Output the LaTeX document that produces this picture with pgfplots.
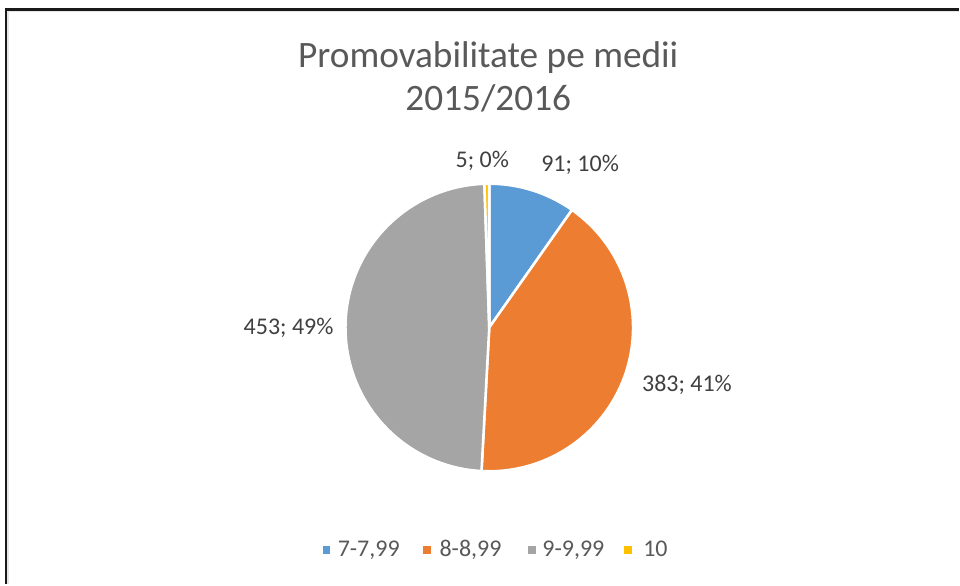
\documentclass[border=0pt]{standalone}
\usepackage{pgfplots}
\pgfplotsset{compat=1.18}
\usepackage{pgfplotstable}
\usepackage{fontspec}
\setmainfont{Carlito}

\definecolor{c1}{HTML}{5B9BD5}
\definecolor{c2}{HTML}{ED7D31}
\definecolor{c3}{HTML}{A5A5A5}
\definecolor{c4}{HTML}{FFC000}
\definecolor{titlu}{HTML}{595959}
\definecolor{eticheta}{HTML}{404040}

% promovabilitate pe medii, 2015/2016
\pgfplotstableread{
grupa valoare culoare
7-7,99 91 c1
8-8,99 383 c2
9-9,99 453 c3
10 5 c4
}\medii

\begin{document}
\begin{tikzpicture}
\pgfplotstablegetrowsof{\medii}
\pgfmathtruncatemacro\nr{\pgfplotsretval-1}
\def\total{0}
\pgfplotsforeachungrouped \i in {0,...,\nr}{%
  \pgfplotstablegetelem{\i}{valoare}\of\medii
  \pgfmathsetmacro\total{\total+\pgfplotsretval}}
\begin{axis}[
    scale only axis, width=720pt, height=438.75pt,
    xmin=0, xmax=960, ymin=0, ymax=585,
    hide axis, clip=false,
]
\fill[white] (axis cs:0,0) rectangle (axis cs:960,585);
% felii, in sensul acelor de ceas de la ora 12
\def\cum{0}
\pgfplotsforeachungrouped \i in {0,...,\nr}{%
  \pgfplotstablegetelem{\i}{valoare}\of\medii \let\v\pgfplotsretval
  \pgfplotstablegetelem{\i}{culoare}\of\medii \let\col\pgfplotsretval
  \pgfmathsetmacro\aS{90-360*(\cum/\total)}
  \pgfmathsetmacro\cum{\cum+\v}
  \pgfmathsetmacro\aE{90-360*(\cum/\total)}
  \edef\temp{\noexpand\fill[\col, draw=white, line width=1.9pt, line join=round]
    (axis cs:490,257) -- (axis cs:{490+144*cos(\aS)},{257+144*sin(\aS)})
    arc[start angle=\aS, end angle=\aE, radius=108pt] -- cycle;}
  \temp}
% etichete
\begin{scope}[every node/.style={anchor=base, text=eticheta, font=\fontsize{18}{21}\selectfont}]
\node at (axis cs:581,413) {91; 10\%};
\node at (axis cs:688,193) {383; 41\%};
\node at (axis cs:289,250) {453; 49\%};
\node at (axis cs:483,417) {5; 0\%};
\end{scope}
% titlu
\node[anchor=base, text=titlu, font=\fontsize{28}{33}\selectfont] at (axis cs:489,517) {Promovabilitate pe medii};
\node[anchor=base, text=titlu, font=\fontsize{28}{33}\selectfont] at (axis cs:489,474) {2015/2016};
% legenda
\begin{scope}[every node/.style={anchor=base west, text=titlu, font=\fontsize{18}{21}\selectfont, inner sep=0pt}]
\fill[c1] (axis cs:323,30) rectangle (axis cs:331,38);
\node at (axis cs:338,28) {7-7,99};
\fill[c2] (axis cs:424,30) rectangle (axis cs:432,38);
\node at (axis cs:440,28) {8-8,99};
\fill[c3] (axis cs:529,30) rectangle (axis cs:537,38);
\node at (axis cs:543,28) {9-9,99};
\fill[c4] (axis cs:625,30) rectangle (axis cs:633,38);
\node at (axis cs:644,28) {10};
\end{scope}
% chenar
\draw[black!10, line width=1.5pt] (axis cs:8.5,0) -- (axis cs:8.5,573.5) -- (axis cs:960,573.5);
\draw[black!90, line width=2.2pt] (axis cs:6,0) -- (axis cs:6,575.5) -- (axis cs:960,575.5);
\end{axis}
\end{tikzpicture}
\end{document}
